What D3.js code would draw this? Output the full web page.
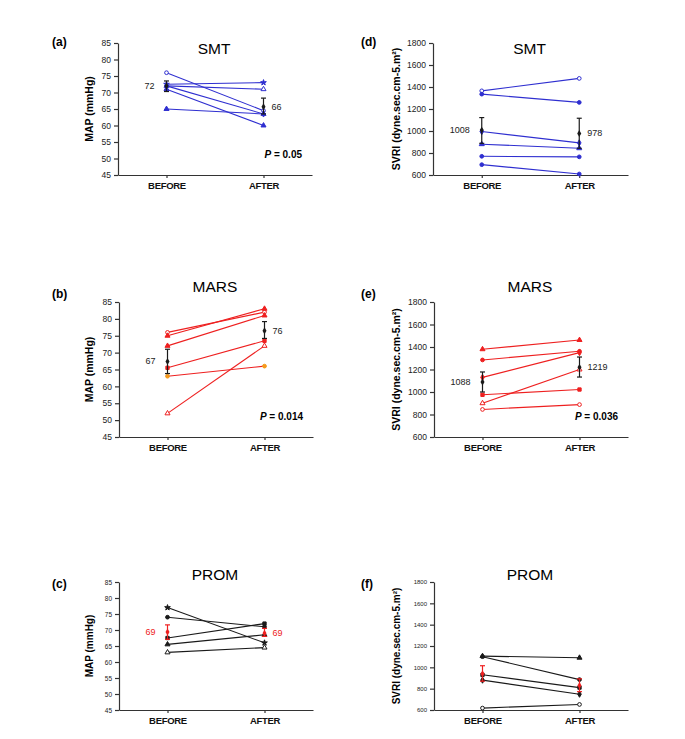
<!DOCTYPE html>
<html>
<head>
<meta charset="utf-8">
<script src="https://cdn.jsdelivr.net/npm/d3@7"></script>
<style>
  body { margin: 0; background: #fff; }
  text { font-family: "Liberation Sans", Arial, sans-serif; }
</style>
</head>
<body>
<div id="chart"></div>
<script>
// time points on the x axis
const timepoints = ["BEFORE", "AFTER"];

// (a) SMT - MAP
const smtMapBefore = [76, 72.5, 72, 72, 71, 65];
const smtMapAfter  = [64.5, 73, 71, 63.5, 60, 63.5];
const smtMapMean   = [72, 65.7];
const smtMapErr    = [[70.3, 73.5], [63.5, 68.3]];
const smtMapLabels = ["72", "66"];

// (b) MARS - MAP
const marsMapBefore = [76, 75, 72, 65.5, 63, 52];
const marsMapAfter  = [82, 83, 81, 73.5, 66, 72];
const marsMapMean   = [67.4, 76.5];
const marsMapErr    = [[63.8, 71], [74.2, 79.2]];
const marsMapLabels = ["67", "76"];

// (c) PROM - MAP
const promMapBefore = [77, 74, 67.5, 65.5, 63];
const promMapAfter  = [66, 71, 72, 68.5, 64.5];
const promMapMean   = [69.4, 69];
const promMapErr    = [[67.1, 71.6], [68, 70.5]];
const promMapLabels = ["69", "69"];

// (d) SMT - SVRI
const smtSvriBefore = [1365, 1335, 995, 880, 770, 694];
const smtSvriAfter  = [1478, 1260, 892, 843, 765, 609];
const smtSvriMean   = [1008, 978];
const smtSvriErr    = [[888, 1122], [843, 1116]];
const smtSvriLabels = ["1008", "978"];

// (e) MARS - SVRI
const marsSvriBefore = [1380, 1285, 1130, 975, 900, 845];
const marsSvriAfter  = [1462, 1362, 1350, 1022, 1200, 888];
const marsSvriMean   = [1088, 1219];
const marsSvriErr    = [[1000, 1178], [1133, 1311]];
const marsSvriLabels = ["1088", "1219"];

// (f) PROM - SVRI
const promSvriBefore = [1105, 1100, 930, 880, 618];
const promSvriAfter  = [1090, 885, 810, 748, 652];
const promSvriMean   = [940, 830];
const promSvriErr    = [[870, 1015], [772, 892]];

const mapTicks  = [45, 50, 55, 60, 65, 70, 75, 80, 85];
const svriTicks = [600, 800, 1000, 1200, 1400, 1600, 1800];

const BLUE = "#2f2fd0", RED = "#ee2020", BLACK = "#1a1a1a", ORANGE = "#f59a1c";

const svg = d3.select("#chart").append("svg")
    .attr("width", 685)
    .attr("height", 739);

const sym = {
  circle: d3.symbolCircle, tri: d3.symbolTriangle, square: d3.symbolSquare,
  diamond: d3.symbolDiamond, star: d3.symbolStar
};

function drawPanel(cfg) {
  const g = svg.append("g");
  let y = d3.scaleLinear().domain([cfg.ticks[0], cfg.ticks[cfg.ticks.length - 1]]).range([cfg.bottom, cfg.top]);
  let x = d3.scalePoint().domain(timepoints).range([cfg.left, cfg.right]).padding(0.5);

  // y axis
  let ya = g.append("g")
    .attr("transform", "translate(" + cfg.left + ",0)")
    .call(d3.axisLeft(y).tickValues(cfg.ticks).tickFormat(d3.format("d"))
      .tickSize(4).tickSizeOuter(0).tickPadding(3));
  ya.selectAll("text").style("font-size", cfg.tickFont + "px").attr("fill", "#222");
  ya.selectAll("line,path").attr("stroke", "#333").attr("stroke-width", 1.2);

  // x axis
  let xa = g.append("g")
    .attr("transform", "translate(0," + cfg.bottom + ")")
    .call(d3.axisBottom(x).tickSize(3).tickSizeOuter(0).tickPadding(4));
  xa.selectAll("text").style("font-size", "9.5px").style("font-weight", "bold")
    .attr("fill", "#111").attr("letter-spacing", "-0.3");
  xa.selectAll("line,path").attr("stroke", "#333").attr("stroke-width", 1.2);

  // axis title
  g.append("text")
    .attr("transform", "translate(" + cfg.titleX + "," + ((cfg.top + cfg.bottom) / 2) + ") rotate(-90)")
    .attr("text-anchor", "middle")
    .style("font-size", cfg.yTitleFont + "px")
    .style("font-weight", "bold")
    .text(cfg.yTitle);

  // panel letter and title
  g.append("text").attr("x", cfg.letterX).attr("y", cfg.letterY)
    .style("font-size", "12px").style("font-weight", "bold").text(cfg.letter);
  g.append("text").attr("x", (cfg.left + cfg.right) / 2 - 1).attr("y", cfg.titleY)
    .attr("text-anchor", "middle").style("font-size", "15.5px").text(cfg.title);

  let line = d3.line().x(d => x(d.t)).y(d => y(d.v));

  // subject lines
  for (var i = 0; i < cfg.before.length; i++) {
    let pts = [{t: "BEFORE", v: cfg.before[i]}, {t: "AFTER", v: cfg.after[i]}];
    g.append("path").datum(pts).attr("d", line)
      .attr("fill", "none").attr("stroke", cfg.color).attr("stroke-width", 1.1);
    let m = cfg.markers[i];
    let mc = m[2] || cfg.color;
    pts.forEach(p => {
      g.append("path")
        .attr("d", d3.symbol().type(sym[m[0]]).size(m[0] == "star" ? 10 : 11)())
        .attr("transform", "translate(" + x(p.t) + "," + y(p.v) + ")")
        .attr("fill", m[1] ? "#fff" : mc)
        .attr("stroke", mc).attr("stroke-width", 1);
    });
  }

  // mean with error bars
  for (var j = 0; j < timepoints.length; j++) {
    let t = timepoints[j];
    let cx = x(t);
    let e = cfg.err[j];
    g.append("line").attr("x1", cx).attr("x2", cx).attr("y1", y(e[0])).attr("y2", y(e[1]))
      .attr("stroke", cfg.meanColor).attr("stroke-width", 1.2);
    e.forEach(v => g.append("line").attr("x1", cx - 2.5).attr("x2", cx + 2.5)
      .attr("y1", y(v)).attr("y2", y(v)).attr("stroke", cfg.meanColor).attr("stroke-width", 1.2));
    g.append("path").attr("d", d3.symbol().type(d3.symbolDiamond).size(14)())
      .attr("transform", "translate(" + cx + "," + y(cfg.mean[j]) + ")")
      .attr("fill", cfg.meanColor);
    if (cfg.labels) {
      g.append("text")
        .attr("x", j == 0 ? cx - 12 : cx + 8)
        .attr("y", y(cfg.mean[j]) + 3)
        .attr("text-anchor", j == 0 ? "end" : "start")
        .attr("fill", cfg.meanColor == BLACK ? "#222" : cfg.meanColor)
        .style("font-size", "9px")
        .text(cfg.labels[j]);
    }
  }

  // p value
  if (cfg.p) {
    let pt = g.append("text").attr("x", cfg.right - 10).attr("y", cfg.bottom - 17)
      .attr("text-anchor", "end").style("font-size", "10px").style("font-weight", "bold");
    pt.append("tspan").style("font-style", "italic").text("P");
    pt.append("tspan").text(" = " + cfg.p);
  }
}

const mapTitle = "MAP (mmHg)";
const svriTitle = "SVRI (dyne.sec.cm-5.m²)";

drawPanel({letter: "(a)", title: "SMT", left: 118, right: 312, top: 43, bottom: 175, titleY: 54,
  letterX: 52, letterY: 46, titleX: 93, yTitle: mapTitle, yTitleFont: 10.5, tickFont: 8.5, ticks: mapTicks,
  before: smtMapBefore, after: smtMapAfter, mean: smtMapMean, err: smtMapErr, labels: smtMapLabels,
  color: BLUE, meanColor: BLACK, p: "0.05",
  markers: [["circle", true], ["star", false], ["tri", true], ["diamond", false], ["tri", false], ["tri", false]]});

drawPanel({letter: "(b)", title: "MARS", left: 119, right: 313, top: 302, bottom: 437, titleY: 292,
  letterX: 52, letterY: 298, titleX: 93, yTitle: mapTitle, yTitleFont: 10.5, tickFont: 8.5, ticks: mapTicks,
  before: marsMapBefore, after: marsMapAfter, mean: marsMapMean, err: marsMapErr, labels: marsMapLabels,
  color: RED, meanColor: BLACK, p: "0.014",
  markers: [["circle", true], ["tri", false], ["tri", false], ["square", false], ["circle", false, ORANGE], ["tri", true]]});

drawPanel({letter: "(c)", title: "PROM", left: 119, right: 313, top: 582, bottom: 710, titleY: 580,
  letterX: 52, letterY: 588, titleX: 93, yTitle: mapTitle, yTitleFont: 10, tickFont: 6.5, ticks: mapTicks,
  before: promMapBefore, after: promMapAfter, mean: promMapMean, err: promMapErr, labels: promMapLabels,
  color: BLACK, meanColor: RED, p: null,
  markers: [["star", false], ["circle", false], ["square", false], ["tri", false], ["tri", true]]});

drawPanel({letter: "(d)", title: "SMT", left: 433, right: 628, top: 43, bottom: 175, titleY: 54,
  letterX: 361, letterY: 46, titleX: 400, yTitle: svriTitle, yTitleFont: 10.5, tickFont: 8.5, ticks: svriTicks,
  before: smtSvriBefore, after: smtSvriAfter, mean: smtSvriMean, err: smtSvriErr, labels: smtSvriLabels,
  color: BLUE, meanColor: BLACK, p: null,
  markers: [["circle", true], ["circle", false], ["diamond", false], ["tri", false], ["circle", false], ["circle", false]]});

drawPanel({letter: "(e)", title: "MARS", left: 434, right: 628, top: 302, bottom: 437, titleY: 292,
  letterX: 361, letterY: 298, titleX: 400, yTitle: svriTitle, yTitleFont: 10.5, tickFont: 8.5, ticks: svriTicks,
  before: marsSvriBefore, after: marsSvriAfter, mean: marsSvriMean, err: marsSvriErr, labels: marsSvriLabels,
  color: RED, meanColor: BLACK, p: "0.036",
  markers: [["tri", false], ["circle", false], ["diamond", false], ["square", false], ["tri", true], ["circle", true]]});

drawPanel({letter: "(f)", title: "PROM", left: 434, right: 628, top: 582, bottom: 710, titleY: 580,
  letterX: 361, letterY: 588, titleX: 400, yTitle: svriTitle, yTitleFont: 10, tickFont: 6, ticks: svriTicks,
  before: promSvriBefore, after: promSvriAfter, mean: promSvriMean, err: promSvriErr, labels: null,
  color: BLACK, meanColor: RED, p: null,
  markers: [["tri", false], ["circle", false], ["square", false], ["diamond", false], ["circle", true]]});
</script>
</body>
</html>
